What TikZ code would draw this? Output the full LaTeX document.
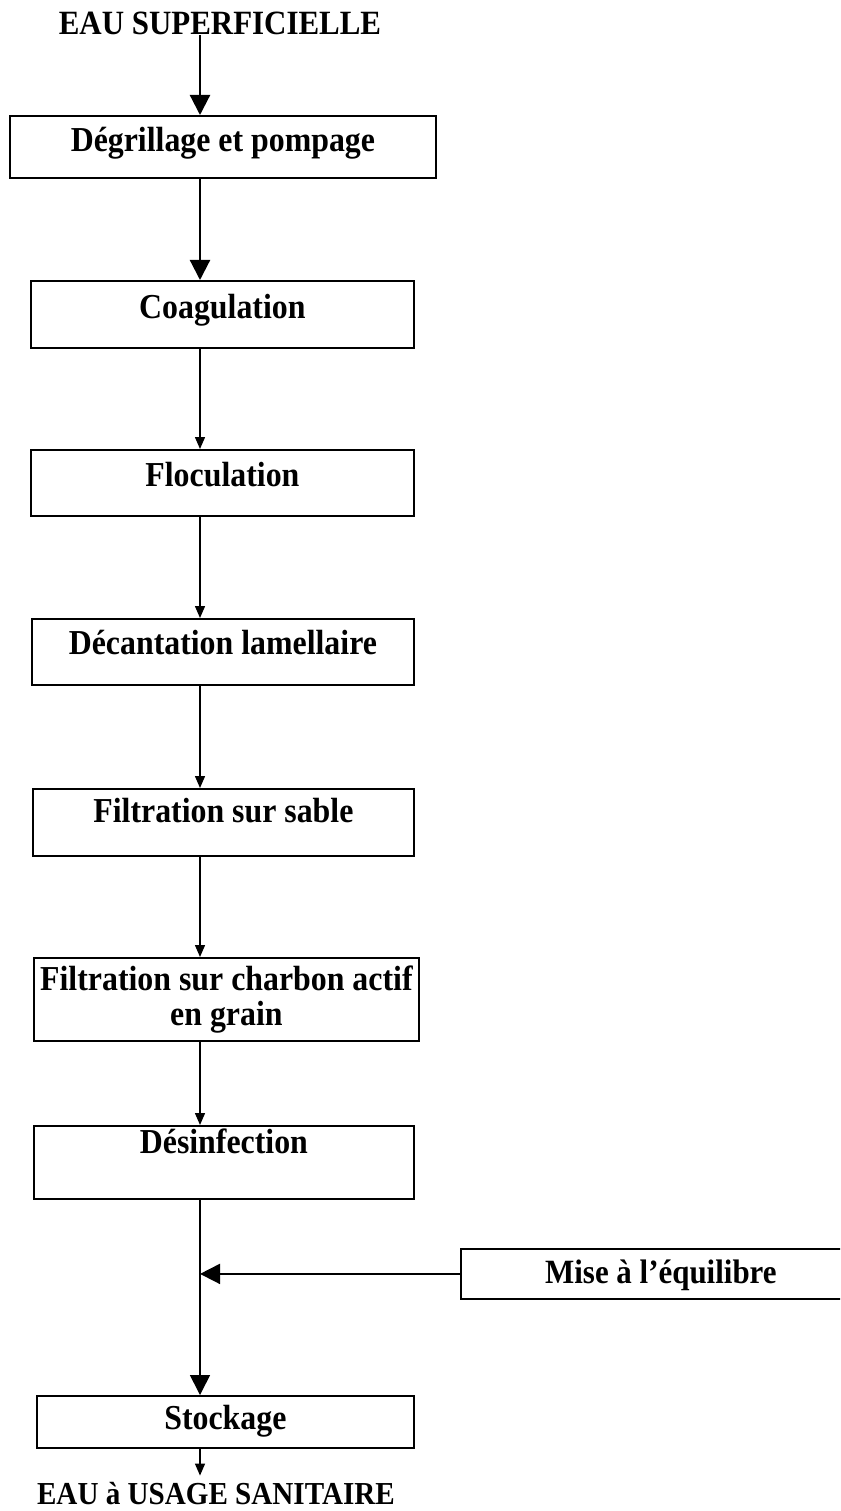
\documentclass[tikz,border=0pt]{standalone}
\usepackage{fontspec}
\setmainfont{Liberation Serif}
\newfontfamily\etapefont[FakeStretch=0.91]{Liberation Serif}
\usetikzlibrary{positioning, arrows.meta}

\begin{document}
\begin{tikzpicture}[x=1pt, y=-1pt,
  every node/.style={inner sep=0pt},
  etape/.style={draw, line width=1.8pt, anchor=north west, align=center,
                font=\etapefont\fontsize{35}{35}\selectfont\bfseries},
  titre/.style={anchor=base, font=\etapefont\fontsize{34}{35}\selectfont\bfseries},
  fleche/.style={-{Triangle[width=10pt, length=12pt]}, line width=1.4pt},
  grossefleche/.style={-{Triangle[width=20pt, length=20pt]}, line width=2.2pt}]
\clip (0,0) rectangle (840,1511);
\coordinate (axe) at (200,0);
% entree
\node[titre] (entree) at (220,35) {EAU SUPERFICIELLE};
% filiere de traitement
\node[etape, minimum width=426pt, text height=36pt, text depth=26pt]
  (degr) at (9,115) {Dégrillage et pompage};
\node[etape, minimum width=383pt, text height=38pt, text depth=29pt]
  (coag) at (30,280) {Coagulation};
\node[etape, minimum width=383pt, text height=37pt, text depth=29pt]
  (floc) at (30,449) {Floculation};
\node[etape, minimum width=382pt, text height=36pt, text depth=30pt]
  (deca) at (31,618) {Décantation lamellaire};
\node[etape, minimum width=381pt, text height=34pt, text depth=33pt]
  (sable) at (32,788) {Filtration sur sable};
\node[etape, minimum width=385pt, minimum height=83pt]
  (charb) at (33,957) {Filtration sur charbon actif\\en grain};
\node[etape, minimum width=380pt, text height=28pt, text depth=45pt]
  (desinf) at (33,1125) {Désinfection};
\node[etape, minimum width=400pt, text height=35pt, text depth=15pt,
      font=\etapefont\fontsize{34}{34}\selectfont\bfseries]
  (mise) at (460,1248) {Mise à l’équilibre};
\node[etape, minimum width=377pt, text height=34pt, text depth=18pt]
  (stock) at (36,1395) {Stockage};
% sortie
\node[titre, font=\etapefont\fontsize{32}{34}\selectfont\bfseries]
  (sortie) at (216,1504) {EAU à USAGE SANITAIRE};
% liaisons
\draw[grossefleche] (entree.base -| axe) -- (degr.north -| axe);
\draw[grossefleche] (degr.south -| axe) -- (coag.north -| axe);
\draw[fleche] (coag.south -| axe) -- (floc.north -| axe);
\draw[fleche] (floc.south -| axe) -- (deca.north -| axe);
\draw[fleche] (deca.south -| axe) -- (sable.north -| axe);
\draw[fleche] (sable.south -| axe) -- (charb.north -| axe);
\draw[fleche] (charb.south -| axe) -- (desinf.north -| axe);
\draw[grossefleche, line width=1.6pt] (desinf.south -| axe) -- (stock.north -| axe);
\draw[grossefleche, line width=1.8pt] (mise.west) -- (mise.west -| axe);
\draw[fleche] (stock.south -| axe) -- ([yshift=6pt]sortie.north -| axe);
\end{tikzpicture}
\end{document}
